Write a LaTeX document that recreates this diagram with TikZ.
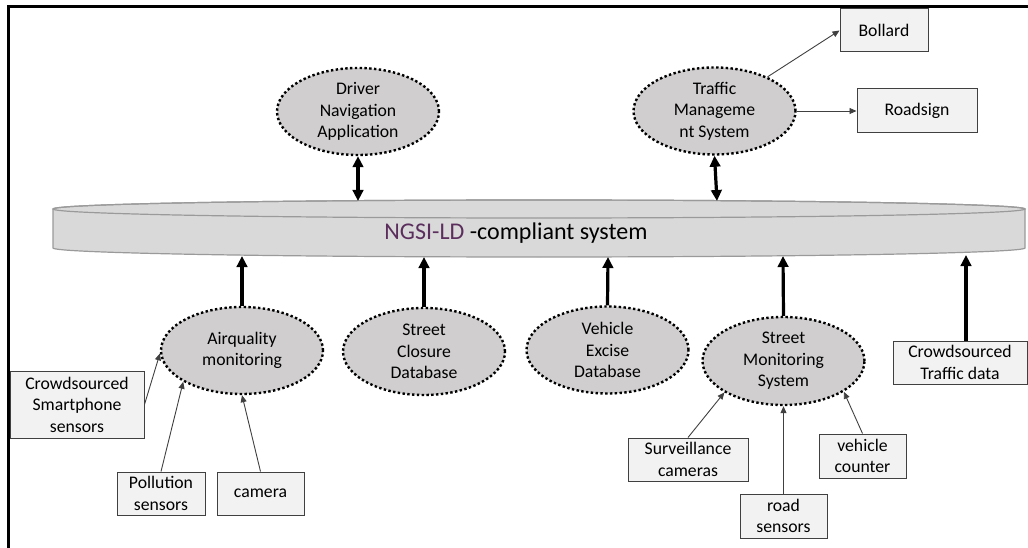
\documentclass[tikz,border=0pt]{standalone}
\usepackage{fontspec}
\setmainfont{Carlito}
\usepackage{xcolor}
\usetikzlibrary{shapes.geometric,arrows.meta}
\definecolor{ink}{HTML}{000000}
\definecolor{edge}{HTML}{404040}
\definecolor{oval}{HTML}{D0CECE}
\definecolor{boxfill}{HTML}{F2F2F2}
\definecolor{barfill}{HTML}{D9D9D9}
\definecolor{barline}{HTML}{9A9A9A}
\definecolor{ngsi}{HTML}{5B2E5E}
\newcommand\ovfont{\fontsize{17.7}{21.5}\selectfont}
\tikzset{
  frame/.style={draw=ink, line width=3pt},
  sys/.style={ellipse, fill=oval, draw=ink, line width=2.4pt, dash pattern=on 2.4pt off 2.4pt,
    minimum width=162pt, minimum height=87pt, inner sep=0pt, align=center, font=\ovfont},
  dev/.style={rectangle, fill=boxfill, draw=edge, line width=1pt, inner sep=0pt, align=center, font=\ovfont},
  bus/.style={fill=barfill, draw=barline, line width=1.2pt},
  link/.style={draw=ink, line width=3.2pt, -{Triangle[width=10.5pt,length=11pt]}},
  both/.style={link, {Triangle[width=10.5pt,length=11pt]}-{Triangle[width=10.5pt,length=11pt]}},
  feed/.style={draw=edge, line width=0.9pt, -{Triangle[width=6pt,length=7pt]}},
}
\begin{document}
\begin{tikzpicture}[x=1pt, y=-1pt]
  \useasboundingbox (0,0) rectangle (1028,548);
  \draw[frame] (8.5,7) rectangle (1040,560);
  % the shared system bar
  \path[bus] (53,209) -- (53,248) arc[start angle=180, end angle=0, x radius=486, y radius=9]
    -- (1025,209) arc[start angle=0, end angle=-180, x radius=486, y radius=9] -- cycle;
  \draw[bus, fill=none] (539,209) ellipse [x radius=486, y radius=9];
  \node[font=\fontsize{24}{28}\selectfont, anchor=base, inner sep=0pt] (ngsi) at (516,239.5)
    {\textcolor{ngsi}{NGSI-LD} -compliant system};
  \coordinate (bus-dna) at (358,201);
  \coordinate (bus-tms) at (717,201);
  \coordinate (bus-aqm) at (242,256);
  \coordinate (bus-scd) at (424,257);
  \coordinate (bus-ved) at (608,257);
  \coordinate (bus-sms) at (783,256);
  \coordinate (bus-crowd) at (966,255);
  % applications and sources
  \node[sys] (dna) at (358,111.5) {Driver\\Navigation\\Application};
  \node[sys] (tms) at (714.5,111) {Traffic\\Manageme\\nt System};
  \node[sys] (aqm) at (242,350.5) {Airquality\\monitoring};
  \node[sys] (scd) at (424,351.5) {Street\\Closure\\Database};
  \node[sys] (ved) at (607.5,350) {Vehicle\\Excise\\Database};
  \node[sys, minimum height=88pt] (sms) at (783.5,361) {Street\\Monitoring\\System};
  % devices
  \node[dev, minimum width=88pt, minimum height=43pt] (bollard) at (884,30.5) {Bollard};
  \node[dev, minimum width=120pt, minimum height=44pt] (roadsign) at (917,111) {Roadsign};
  \node[dev, minimum width=134pt, minimum height=67pt] (phone) at (77,404.5) {Crowdsourced\\Smartphone\\sensors};
  \node[dev, minimum width=88pt, minimum height=43pt] (pollution) at (161,493.5) {Pollution\\sensors};
  \node[dev, minimum width=87pt, minimum height=43pt] (camera) at (260.5,493.5) {camera};
  \node[dev, minimum width=120pt, minimum height=43pt] (cams) at (688,459.5) {Surveillance\\cameras};
  \node[dev, minimum width=87pt, minimum height=44pt] (road) at (783.5,516) {road\\sensors};
  \node[dev, minimum width=87pt, minimum height=44pt] (counter) at (862.5,456) {vehicle\\counter};
  \node[dev, minimum width=134pt, minimum height=43pt] (crowd) at (960,362.5) {Crowdsourced\\Traffic data};
  % links to the bar
  \draw[both] (dna.south) -- (bus-dna);
  \draw[both] (tms.south) -- (bus-tms);
  \draw[link] (aqm.north) -- (bus-aqm);
  \draw[link] (scd.north) -- (bus-scd);
  \draw[link] (ved.north) -- (bus-ved);
  \draw[link] (sms.north) -- (bus-sms);
  \draw[link] (bus-crowd |- crowd.north) -- (bus-crowd);
  % feeds
  \draw[feed] (tms) -- (bollard.west);
  \draw[feed] (tms.east) -- (roadsign.west);
  \draw[feed] (phone.east) -- (aqm.182);
  \draw[feed] (pollution.north) -- (aqm.208);
  \draw[feed] (camera.north) -- (aqm.south);
  \draw[feed] (cams.north) -- (sms.208);
  \draw[feed] (road.north) -- (sms.south);
  \draw[feed] (counter.north) -- (sms.333);
\end{tikzpicture}
\end{document}
